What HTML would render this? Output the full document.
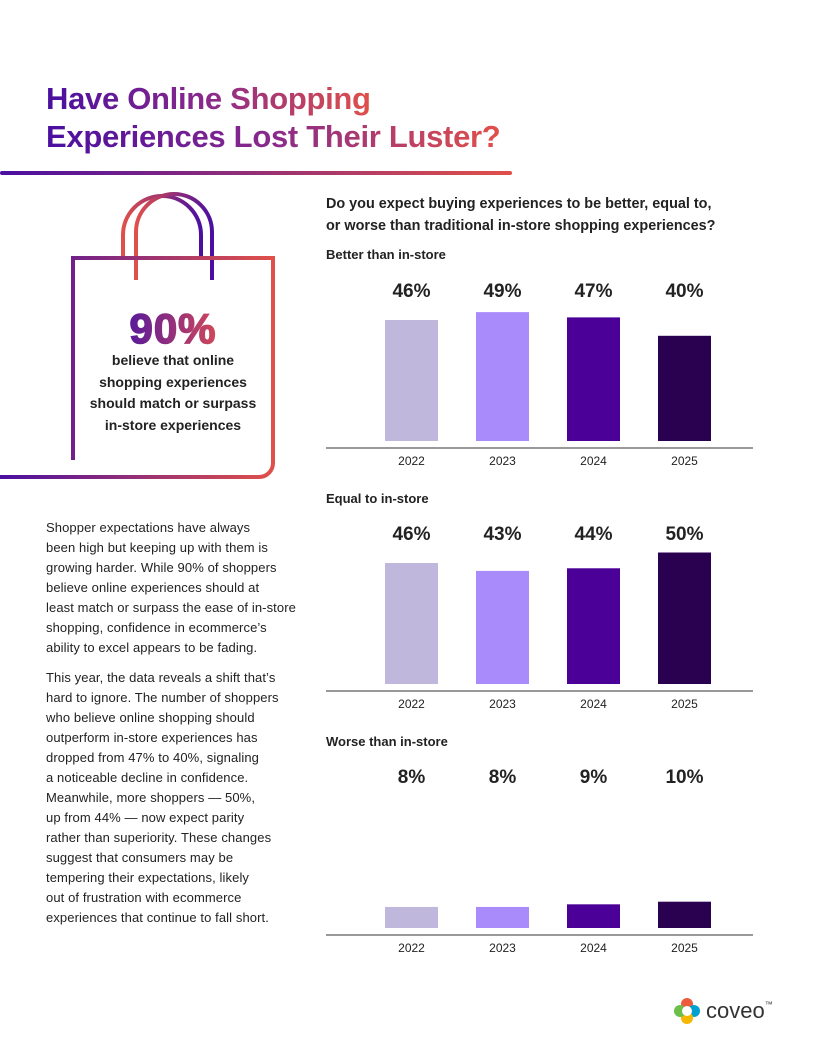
<!DOCTYPE html>
<html><head><meta charset="utf-8">
<style>
body{margin:0;width:816px;height:1056px;background:#fff;font-family:"Liberation Sans",sans-serif;position:relative;overflow:hidden}
.abs{position:absolute}
h1{position:absolute;left:46px;top:80px;margin:0;font-size:31px;line-height:38px;font-weight:bold;letter-spacing:-0.3px}
h1 span{background:linear-gradient(90deg,#4a0fa0,#8a2a8a 50%,#e0504a);-webkit-background-clip:text;background-clip:text;color:transparent}
.body{left:46px;font-size:13px;line-height:20px;color:#222;white-space:nowrap;letter-spacing:0.1px}
.q{left:326px;top:193px;font-size:14.4px;line-height:22px;font-weight:bold;color:#222;white-space:nowrap}
.sub{left:326px;font-size:13px;font-weight:bold;color:#222}
</style></head><body>
<h1><span>Have Online Shopping</span><br><span>Experiences Lost Their Luster?</span></h1>
<div class="abs" style="left:0;top:171px;width:512px;height:4px;border-radius:2px;background:linear-gradient(90deg,#4a0fa0,#e0504a)"></div>

<svg class="abs" style="left:0;top:180px" width="300" height="310">
<defs>
<linearGradient id="hg" x1="0" x2="1"><stop offset="0" stop-color="#e0504a"/><stop offset="1" stop-color="#4a0fa0"/></linearGradient>
<linearGradient id="bg" x1="0" x2="1"><stop offset="0" stop-color="#4a0fa0"/><stop offset="1" stop-color="#e0504a"/></linearGradient>
</defs>
<path d="M123 78 V55 A39 39 0 0 1 201 55 V78" fill="none" stroke="url(#hg)" stroke-width="4"/>
<path d="M136 100 V52 A38 38 0 0 1 212 52 V100" fill="none" stroke="url(#hg)" stroke-width="4"/>
<path d="M73 280 V78 H273 V283 A14 14 0 0 1 259 297 H0" fill="none" stroke="url(#bg)" stroke-width="4"/>
<defs><linearGradient id="tg" x1="0" x2="1"><stop offset="0" stop-color="#5a1a9a"/><stop offset="1" stop-color="#d0485a"/></linearGradient></defs>
<text x="173" y="163" text-anchor="middle" font-size="42" font-weight="bold" fill="url(#tg)" stroke="url(#tg)" stroke-width="1.5" font-family="Liberation Sans, sans-serif" letter-spacing="1">90%</text>
</svg>
<div class="abs" style="left:73px;width:200px;top:350px;text-align:center;font-size:14px;line-height:21.5px;font-weight:bold;color:#222">believe that online<br>shopping experiences<br>should match or surpass<br>in-store experiences</div>

<div class="abs body" style="top:518px">Shopper expectations have always<br>been high but keeping up with them is<br>growing harder. While 90% of shoppers<br>believe online experiences should at<br>least match or surpass the ease of in-store<br>shopping, confidence in ecommerce’s<br>ability to excel appears to be fading.</div>
<div class="abs body" style="top:668px">This year, the data reveals a shift that’s<br>hard to ignore. The number of shoppers<br>who believe online shopping should<br>outperform in-store experiences has<br>dropped from 47% to 40%, signaling<br>a noticeable decline in confidence.<br>Meanwhile, more shoppers — 50%,<br>up from 44% — now expect parity<br>rather than superiority. These changes<br>suggest that consumers may be<br>tempering their expectations, likely<br>out of frustration with ecommerce<br>experiences that continue to fall short.</div>

<div class="abs q">Do you expect buying experiences to be better, equal to,<br>or worse than traditional in-store shopping experiences?</div>
<div class="abs sub" style="top:247px">Better than in-store</div>
<div class="abs sub" style="top:491px">Equal to in-store</div>
<div class="abs sub" style="top:734px">Worse than in-store</div>

<svg id="charts" class="abs" style="left:0;top:0" width="816" height="1056"></svg>

<div class="abs" style="left:672px;top:996px;height:30px;display:flex;align-items:center">
<svg width="30" height="30"><circle cx="15" cy="8" r="6" fill="#f05a3c"/><circle cx="22" cy="15" r="6" fill="#00a0d0"/><circle cx="15" cy="22" r="6" fill="#f5b800"/><circle cx="8" cy="15" r="6" fill="#6cc04a"/><circle cx="15" cy="15" r="5" fill="#fff"/></svg>
<span style="font-size:22px;color:#333;margin-left:4px">coveo</span><span style="font-size:8px;color:#333;align-self:flex-start;margin-top:4px">™</span>
</div>

<script>
const years=["2022","2023","2024","2025"];
const betterVals=[46,49,47,40];
const equalVals=[46,43,44,50];
const worseVals=[8,8,9,10];
const colors=["#bfb8dc","#a98bfc","#4b0097","#2a0050"];
const svg=document.getElementById('charts');
const NS="http://www.w3.org/2000/svg";
const pxPer=2.63;
function xPos(i){return 385+i*91;}
function yPos(base,v){return base-v*pxPer;}
function chart(vals,base,labelY,key){
  const line=document.createElementNS(NS,'line');
  line.setAttribute('x1',326);line.setAttribute('x2',753);
  line.setAttribute('y1',base+7);line.setAttribute('y2',base+7);
  line.setAttribute('stroke','#333');line.setAttribute('stroke-width','1');
  
  
  svg.appendChild(line);
  vals.forEach((v,i)=>{
    const r=document.createElementNS(NS,'rect');
    r.setAttribute('x',xPos(i));r.setAttribute('width',53);
    r.setAttribute('y',yPos(base,v));r.setAttribute('height',base-yPos(base,v));
    r.setAttribute('fill',colors[i]);
    
    
    svg.appendChild(r);
    const t=document.createElementNS(NS,'text');
    t.setAttribute('x',xPos(i)+26.5);t.setAttribute('y',labelY);
    t.setAttribute('text-anchor','middle');t.setAttribute('font-size','19');
    t.setAttribute('font-weight','bold');t.setAttribute('fill','#222');
    t.setAttribute('font-family','Liberation Sans, sans-serif');
    t.textContent=v+'%';
    
    
    svg.appendChild(t);
    const y=document.createElementNS(NS,'text');
    y.setAttribute('x',xPos(i)+26.5);y.setAttribute('y',base+24);
    y.setAttribute('text-anchor','middle');y.setAttribute('font-size','12');
    y.setAttribute('fill','#222');
    y.setAttribute('font-family','Liberation Sans, sans-serif');
    y.textContent=years[i];
    
    
    svg.appendChild(y);
  });
}
chart(betterVals,441,297,'better');
chart(equalVals,684,540,'equal');
chart(worseVals,928,783,'worse');
</script>
</body></html>
